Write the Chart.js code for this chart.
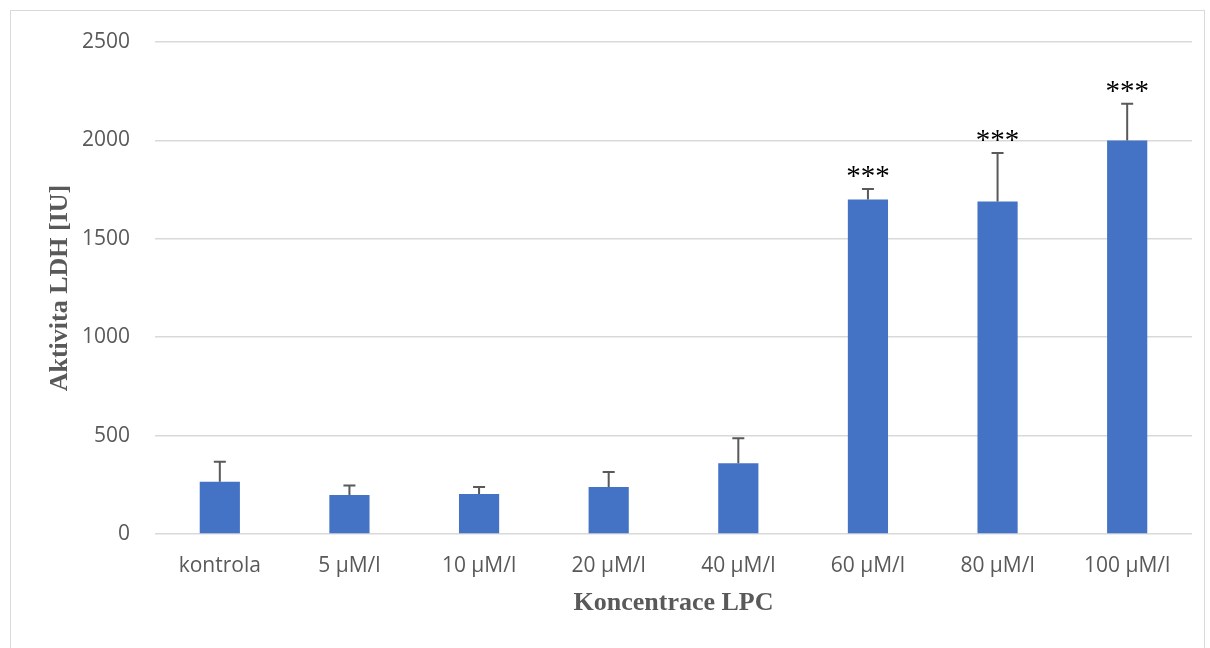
<!DOCTYPE html>
<html>
<head>
<meta charset="utf-8">
<script src="https://cdn.jsdelivr.net/npm/chart.js@4.4.1/dist/chart.umd.min.js"></script>
<style>
    html, body { margin: 0; padding: 0; background: #fff; }
    #frame {
        position: absolute; left: 10px; top: 10px;
        width: 1195px; height: 660px;
        border: 1px solid #d9d9d9; box-sizing: border-box;
    }
    #wrap { position: absolute; left: 0; top: 0; width: 1210px; height: 648px; }
</style>
</head>
<body>
<div id="frame"></div>
<div id="wrap"><canvas id="ldhChart"></canvas></div>
<script>
// LDH activity by LPC concentration
const categories = ['kontrola', '5 µM/l', '10 µM/l', '20 µM/l', '40 µM/l', '60 µM/l', '80 µM/l', '100 µM/l'];
const ldhValues = [265, 198, 203, 239, 359, 1700, 1690, 2000];
const ldhErrors = [102, 49, 36, 76, 127, 53, 246, 186];
const significance = ['', '', '', '', '', '***', '***', '***'];
const yTicks = [0, 500, 1000, 1500, 2000, 2500];

const textGray = '#595959';

// Draws the upper error bars and the significance stars
const errorBarPlugin = {
    id: 'errorBars',
    afterDatasetsDraw(chart) {
        const ctx = chart.ctx;
        const meta = chart.getDatasetMeta(0);
        const yScale = chart.scales.y;
        ctx.save();
        meta.data.forEach((bar, i) => {
            const top = yScale.getPixelForValue(ldhValues[i] + ldhErrors[i]);
            const base = yScale.getPixelForValue(ldhValues[i]);
            ctx.strokeStyle = textGray;
            ctx.lineWidth = 2;
            ctx.beginPath();
            ctx.moveTo(bar.x, base);
            ctx.lineTo(bar.x, top);
            ctx.moveTo(bar.x - 6, top);
            ctx.lineTo(bar.x + 6, top);
            ctx.stroke();
            if (significance[i]) {
                ctx.fillStyle = '#000';
                ctx.font = '29px "Liberation Serif"';
                ctx.textAlign = 'center';
                ctx.textBaseline = 'alphabetic';
                ctx.fillText(significance[i], bar.x, top - 4);
            }
        });
        ctx.restore();
    }
};

function initLdhChart() {
    const canvas = document.getElementById('ldhChart');
    new Chart(canvas.getContext('2d'), {
        type: 'bar',
        data: {
            labels: categories,
            datasets: [{
                data: ldhValues,
                backgroundColor: '#4472c4',
                borderWidth: 0,
                barPercentage: 0.62,
                categoryPercentage: 0.5
            }]
        },
        options: {
            responsive: true,
            maintainAspectRatio: false,
            animation: false,
            layout: { padding: { top: 42, right: 18, bottom: 25, left: 43 } },
            plugins: {
                legend: { display: false },
                tooltip: { enabled: false }
            },
            scales: {
                x: {
                    afterFit(axis) {
                        axis.height = 89;
                    },
                    grid: { display: false, drawTicks: false },
                    border: { display: false },
                    ticks: {
                        color: textGray,
                        font: { family: '"Open Sans"', size: 21 },
                        padding: 19
                    },
                    title: {
                        display: true,
                        text: 'Koncentrace LPC',
                        color: textGray,
                        font: { family: '"Liberation Serif"', size: 26, weight: 'bold' },
                        padding: { top: 10, bottom: 4 }
                    }
                },
                y: {
                    min: 0,
                    max: 2500,
                    afterBuildTicks(axis) {
                        axis.ticks = yTicks.map(v => ({ value: v }));
                    },
                    afterFit(axis) {
                        axis.width = 112;
                    },
                    grid: { color: '#d9d9d9', lineWidth: 1.5, drawTicks: false },
                    border: { display: false },
                    ticks: {
                        color: textGray,
                        font: { family: '"Open Sans"', size: 21 },
                        padding: 25,
                        callback: value => String(value)
                    },
                    title: {
                        display: true,
                        text: 'Aktivita LDH [IU]',
                        color: textGray,
                        font: { family: '"Liberation Serif"', size: 26, weight: 'bold' },
                        padding: { top: 2, bottom: 6 }
                    }
                }
            }
        },
        plugins: [errorBarPlugin]
    });
}

document.addEventListener('DOMContentLoaded', initLdhChart);
</script>
</body>
</html>
